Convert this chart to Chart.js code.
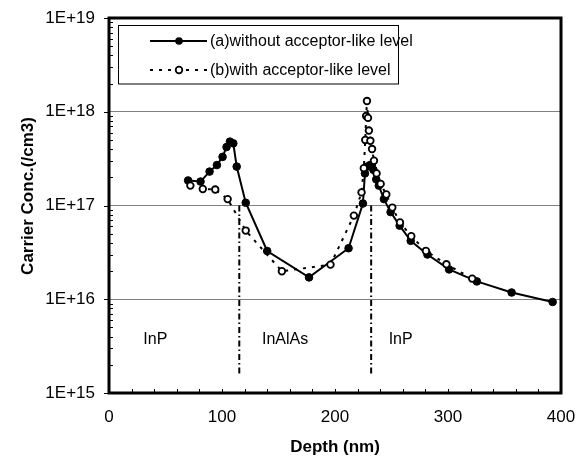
<!DOCTYPE html>
<html>
<head>
<meta charset="utf-8">
<script src="https://cdn.jsdelivr.net/npm/chart.js@4/dist/chart.umd.min.js"></script>
<style>
  html, body { margin: 0; padding: 0; background: #fff; }
  #wrap { width: 578px; height: 456px; }
</style>
</head>
<body>
<div id="wrap"><canvas id="c" width="578" height="456"></canvas></div>
<script>
// ---- data ----
const seriesALabel = '(a)without acceptor-like level';
const depthA = [70, 81, 89, 95.5, 100.5, 104, 107, 110, 113, 121, 140, 177, 212, 224.7, 226.5, 228.5, 231, 234, 236.5, 238.8, 243.3, 249.2, 257.2, 267, 281.8, 301, 325.5, 356.3, 392.6];
const concA  = [1.85e17, 1.8e17, 2.3e17, 2.7e17, 3.3e17, 4.2e17, 4.8e17, 4.6e17, 2.6e17, 1.07e17, 3.27e16, 1.71e16, 3.5e16, 1.05e17, 2.2e17, 2.6e17, 2.7e17, 2.4e17, 1.9e17, 1.63e17, 1.17e17, 8.5e16, 6.1e16, 4.2e16, 3.0e16, 2.08e16, 1.55e16, 1.18e16, 9.35e15];

const seriesBLabel = '(b)with acceptor-like level';
const depthB = [72, 83, 94, 105, 121, 153, 196, 216.7, 223.5, 225.5, 226.8, 227.6, 228.3, 229.2, 230, 231.3, 232.8, 234.5, 236.8, 240.4, 245.4, 250.7, 257.5, 267.5, 280.5, 298.6, 321.4];
const concB  = [1.63e17, 1.5e17, 1.48e17, 1.17e17, 5.4e16, 1.99e16, 2.34e16, 7.8e16, 1.38e17, 2.5e17, 5e17, 9e17, 1.3e18, 8.6e17, 6.3e17, 4.9e17, 4e17, 3e17, 2.2e17, 1.7e17, 1.31e17, 9.5e16, 6.6e16, 4.7e16, 3.27e16, 2.36e16, 1.66e16];

const boundaryDepths = [115.3, 232];
const boundaryTop = 1e17;
const boundaryBottom = 1.5e15;

const layerNames = ['InP', 'InAlAs', 'InP'];
const layerDepths = [30.4, 135.4, 247.5];
const layerConc = 3.75e15;

const xTitle = 'Depth (nm)';
const yTitle = 'Carrier Conc.(/cm3)';
const xMin = 0, xMax = 400, xStep = 100, xMinorStep = 20;
const yMinExp = 15, yMaxExp = 19;

// ---- build ----
const pts = (xs, ys) => xs.map((v, i) => ({ x: v, y: ys[i] }));
const isDecade = v => { const e = Math.log10(v); return Math.abs(e - Math.round(e)) < 1e-6; };
const FONT = 'Arial, "Liberation Sans", sans-serif';
Chart.defaults.font.family = FONT;

const datasets = [
  {
    label: seriesALabel, data: pts(depthA, concA), showLine: true,
    borderColor: '#000', borderWidth: 2, backgroundColor: '#000',
    pointRadius: 3.8, pointBackgroundColor: '#000', pointBorderColor: '#000', pointBorderWidth: 1,
    order: 2
  },
  {
    label: seriesBLabel, data: pts(depthB, concB), showLine: true,
    borderColor: '#000', borderWidth: 2, borderDash: [3, 6],
    pointRadius: 3.3, pointBackgroundColor: '#fff', pointBorderColor: '#000', pointBorderWidth: 1.8,
    order: 1
  }
];
boundaryDepths.forEach(d => datasets.push({
  label: 'boundary', data: [{ x: d, y: boundaryTop }, { x: d, y: boundaryBottom }], showLine: true,
  borderColor: '#000', borderWidth: 2, borderDash: [6, 3, 1.5, 3], pointRadius: 0, order: 3
}));

function seg(ctx, x1, y1, x2, y2) { ctx.beginPath(); ctx.moveTo(x1, y1); ctx.lineTo(x2, y2); ctx.stroke(); }

const decor = {
  id: 'decor',
  afterDraw(chart) {
    const { ctx, chartArea: a, scales: { x, y } } = chart;
    ctx.save();
    ctx.strokeStyle = '#000';
    ctx.lineWidth = 1;
    // y ticks
    for (let e = yMinExp; e <= yMaxExp; e++) {
      const py = Math.round(y.getPixelForValue(Math.pow(10, e))) + 0.5;
      seg(ctx, a.left - 5, py, a.left, py);
      if (e < yMaxExp) {
        for (let k = 2; k <= 9; k++) {
          const my = Math.round(y.getPixelForValue(k * Math.pow(10, e))) + 0.5;
          seg(ctx, a.left, my, a.left + 4, my);
        }
      }
    }
    // x ticks
    for (let v = xMin + xMinorStep; v < xMax; v += xMinorStep) {
      const px = Math.round(x.getPixelForValue(v)) + 0.5;
      seg(ctx, px, a.bottom, px, a.bottom - 4);
    }
    // frame
    ctx.lineWidth = 3;
    ctx.strokeRect(a.left, a.top, a.right - a.left, a.bottom - a.top);

    // layer labels
    ctx.fillStyle = '#000';
    ctx.font = '16px ' + FONT;
    ctx.textAlign = 'left';
    ctx.textBaseline = 'middle';
    layerNames.forEach((n, i) => ctx.fillText(n, x.getPixelForValue(layerDepths[i]), y.getPixelForValue(layerConc)));

    // legend
    const lx = 118.5, ly = 25.5, lw = 280, lh = 58.5;
    ctx.fillStyle = '#fff';
    ctx.fillRect(lx, ly, lw, lh);
    ctx.lineWidth = 1;
    ctx.strokeStyle = '#000';
    ctx.strokeRect(lx, ly, lw, lh);
    const rows = [41, 70];
    const dsA = chart.data.datasets[0], dsB = chart.data.datasets[1];
    ctx.lineWidth = 2;
    seg(ctx, 150, rows[0], 207, rows[0]);
    ctx.beginPath(); ctx.arc(179, rows[0], 3.8, 0, Math.PI * 2); ctx.fillStyle = '#000'; ctx.fill();
    ctx.setLineDash([3, 6]);
    seg(ctx, 150, rows[1], 207, rows[1]);
    ctx.setLineDash([]);
    ctx.beginPath(); ctx.arc(179, rows[1], 3.3, 0, Math.PI * 2); ctx.fillStyle = '#fff'; ctx.fill();
    ctx.lineWidth = 1.8; ctx.stroke();
    ctx.fillStyle = '#000';
    ctx.font = '16px ' + FONT;
    ctx.textAlign = 'left';
    ctx.textBaseline = 'middle';
    ctx.fillText(dsA.label, 210, rows[0] + 1);
    ctx.fillText(dsB.label, 210, rows[1] + 1);

    // y title
    ctx.translate(28, 196);
    ctx.rotate(-Math.PI / 2);
    ctx.font = 'bold 17px ' + FONT;
    ctx.textAlign = 'center';
    ctx.textBaseline = 'middle';
    ctx.fillText(yTitle, 0, 0);
    ctx.restore();
  }
};

new Chart(document.getElementById('c'), {
  type: 'scatter',
  data: { datasets },
  options: {
    responsive: false,
    animation: false,
    events: [],
    layout: { padding: { left: 0, top: 18, right: 17, bottom: 0 } },
    plugins: { legend: { display: false }, tooltip: { enabled: false } },
    scales: {
      x: {
        type: 'linear', min: xMin, max: xMax,
        afterFit(s) { s.height = 63; s.paddingLeft = 0; s.paddingRight = 0; },
        ticks: { stepSize: xStep, padding: 14, color: '#000', font: { size: 17 } },
        grid: { display: false, drawTicks: false },
        border: { display: false },
        title: { display: true, text: xTitle, color: '#000', font: { size: 17, weight: 'bold', lineHeight: 1 }, padding: 0 }
      },
      y: {
        type: 'logarithmic', min: Math.pow(10, yMinExp), max: Math.pow(10, yMaxExp),
        afterFit(s) { s.width = 109; s.paddingTop = 0; s.paddingBottom = 0; },
        ticks: {
          autoSkip: false, padding: 14, color: '#000', font: { size: 17 },
          callback: v => isDecade(v) ? '1E+' + Math.round(Math.log10(v)) : ''
        },
        grid: {
          drawTicks: false, lineWidth: 1,
          color: c => (c.tick && isDecade(c.tick.value)) ? '#808080' : 'rgba(0,0,0,0)'
        },
        border: { display: false }
      }
    }
  },
  plugins: [decor]
});
</script>
</body>
</html>
